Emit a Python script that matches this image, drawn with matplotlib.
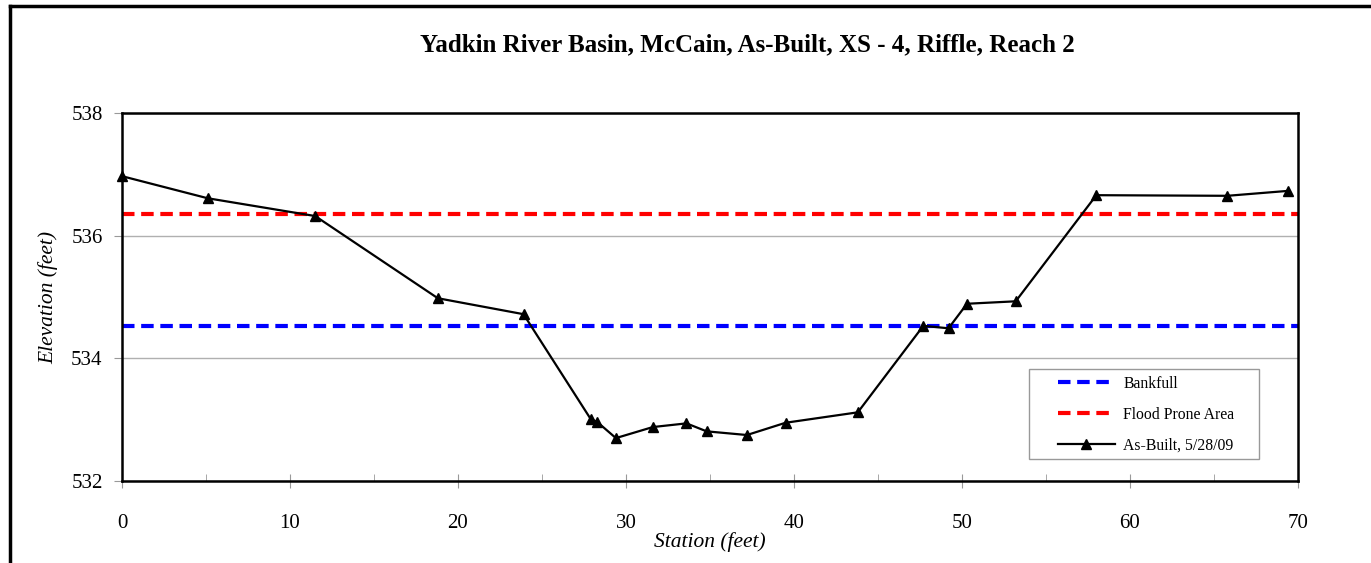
import matplotlib.pyplot as plt
from matplotlib.lines import Line2D
from matplotlib.patches import Rectangle
from matplotlib.ticker import MultipleLocator

# --- Survey data ---
station = [0.0, 5.1, 11.5, 18.8, 23.9, 27.9, 28.3, 29.4, 31.6, 33.6, 34.8,
           37.2, 39.5, 43.8, 47.7, 49.2, 50.3, 53.2, 58.0, 65.8, 69.4]
elevation = [536.97, 536.61, 536.32, 534.98, 534.72, 533.01, 532.96, 532.70,
             532.88, 532.94, 532.81, 532.75, 532.95, 533.12, 534.53, 534.49,
             534.89, 534.93, 536.66, 536.65, 536.73]
bankfull = 534.53
flood_prone = 536.35
x_ext = [0, 70]

plt.rcParams['font.family'] = ['Liberation Serif', 'DejaVu Serif']

fig = plt.figure(figsize=(13.71, 5.63), dpi=100)
ax = fig.add_axes([0.089, 0.1456, 0.8577, 0.6537])

ax.plot(x_ext, [bankfull, bankfull], color='blue', ls=(0, (3, 1.6)), lw=3, label='Bankfull')
ax.plot(x_ext, [flood_prone, flood_prone], color='red', ls=(0, (3, 1.6)), lw=3, label='Flood Prone Area')
ax.plot(station, elevation, color='black', lw=1.6, marker='^', ms=6.5,
        label='As-Built, 5/28/09', clip_on=False, zorder=5)

ax.set_xlim(0, 70)
ax.set_ylim(532, 538)
ax.xaxis.set_major_locator(MultipleLocator(10))
ax.xaxis.set_minor_locator(MultipleLocator(5))
ax.yaxis.set_major_locator(MultipleLocator(2))
ax.grid(axis='y', color='#b0b0b0', lw=1)
ax.set_axisbelow(True)

for s in ax.spines.values():
    s.set_linewidth(1.8)
ax.tick_params(axis='x', which='major', direction='inout', length=10, color='#999999', labelsize=15, pad=19)
ax.tick_params(axis='x', which='minor', direction='in', length=5, color='#999999')
ax.tick_params(axis='y', which='major', direction='out', length=6, color='#999999', labelsize=15, pad=8)

ax.set_xlabel('Station (feet)', style='italic', fontsize=15.5, labelpad=-1)
ax.set_ylabel('Elevation (feet)', style='italic', fontsize=15.5, labelpad=9)

fig.text(0.545, 0.92, 'Yadkin River Basin, McCain, As-Built, XS - 4, Riffle, Reach 2',
         ha='center', va='center', fontsize=18, fontweight='bold')

# legend box drawn separately so the inner padding matches
ax.add_patch(Rectangle((0.771, 0.06), 0.196, 0.244, transform=ax.transAxes,
                       facecolor='white', edgecolor='#999999', lw=1, zorder=6))
leg = ax.legend(loc='center left', bbox_to_anchor=(0.796, 0.18), frameon=False,
                fontsize=11.3, handlelength=3.6, labelspacing=0.95,
                borderpad=0, borderaxespad=0, handletextpad=0.55)
leg.set_zorder(7)

# outer chart border (left and top)
fig.add_artist(Line2D([0.0073, 0.0073], [0, 0.989], color='black', lw=2.5))
fig.add_artist(Line2D([0.0073, 1.0], [0.989, 0.989], color='black', lw=2.5))

fig.savefig('out.png', dpi=100)
